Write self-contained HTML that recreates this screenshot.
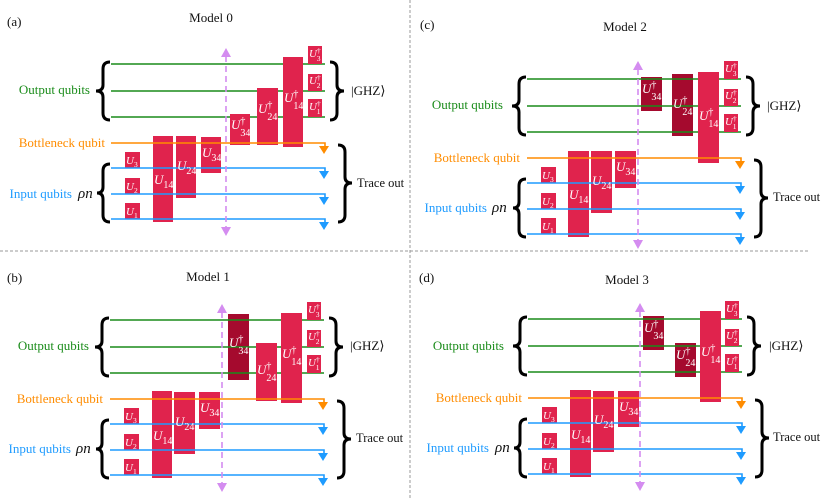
<!DOCTYPE html>
<html><head><meta charset="utf-8"><style>
html,body{margin:0;padding:0;background:#fff}
svg{display:block}
text{font-family:"Liberation Serif",serif}
.g{font-style:italic;fill:#fff;font-size:11px}
.s{font-size:7.5px;font-style:normal}
.b{font-size:13px}
.b .s{font-size:10px}
</style></head><body>
<svg width="830" height="498" viewBox="0 0 830 498" xmlns="http://www.w3.org/2000/svg">
<defs>
<g id="gl" stroke="#1a8c1a" stroke-width="1.6">
<path d="M111,64H325M111,91H325M111,117H325"/>
</g>
<g id="ob">
<path d="M111,143H325V147" stroke="#ff8c00" stroke-width="1.6" fill="none"/>
<polygon points="319,146 329,146 324,154" fill="#ff8c00"/>
<path d="M111,168H325V172M111,194H325V198M111,219H325V223" stroke="#1e9bff" stroke-width="1.6" fill="none"/>
<polygon points="319,171 329,171 324,179" fill="#1e9bff"/>
<polygon points="319,197 329,197 324,205" fill="#1e9bff"/>
<polygon points="319,222 329,222 324,230" fill="#1e9bff"/>
<g stroke="#000" stroke-width="3" fill="none">
<path d="M110,62 Q103,62 103,69 L103,85 Q103,91 96,91 Q103,91 103,97 L103,113 Q103,120 110,120"/>
<path d="M330,62 Q337,62 337,69 L337,85 Q337,91 344,91 Q337,91 337,97 L337,113 Q337,120 330,120"/>
<path d="M110,164 Q103,164 103,171 L103,187 Q103,193 97,193 Q103,193 103,199 L103,215 Q103,222 110,222"/>
<path d="M338,145 Q345,145 345,152 L345,177 Q345,183 352,183 Q345,183 345,189 L345,215 Q345,222 338,222"/>
</g>
</g>
<g id="sm">
<rect x="125" y="152" width="15" height="16" fill="#e0234d"/>
<rect x="125" y="178" width="15" height="16" fill="#e0234d"/>
<rect x="125" y="203" width="15" height="16" fill="#e0234d"/>
</g>
<g id="sd">
<rect x="308" y="46" width="14" height="18" fill="#e0234d"/>
<rect x="308" y="74" width="14" height="17" fill="#e0234d"/>
<rect x="308" y="99" width="14" height="18" fill="#e0234d"/>
</g>
</defs>

<path d="M410,0V498" stroke="#999" stroke-width="1" stroke-dasharray="3,2"/>
<path d="M0,251H808" stroke="#999" stroke-width="1" stroke-dasharray="3,2"/>

<g font-size="13" fill="#111">
<text x="7" y="26">(a)</text>
<text x="211" y="22" text-anchor="middle">Model 0</text>
<text x="420" y="29">(c)</text>
<text x="625" y="31" text-anchor="middle">Model 2</text>
<text x="7" y="282">(b)</text>
<text x="208" y="281" text-anchor="middle">Model 1</text>
<text x="419" y="282">(d)</text>
<text x="627" y="284" text-anchor="middle">Model 3</text>
</g>

<!-- ===== Panel A ===== -->
<g transform="translate(0,0)">
<use href="#gl"/>
<use href="#sm"/>
<rect x="153" y="136" width="20" height="86" fill="#e0234d"/>
<rect x="176" y="136" width="20" height="62" fill="#e0234d"/>
<rect x="201" y="137" width="20" height="36" fill="#e0234d"/>
<rect x="230" y="114" width="20" height="31" fill="#e0234d"/>
<rect x="257" y="88" width="21" height="57" fill="#e0234d"/>
<rect x="283" y="57" width="20" height="90" fill="#e0234d"/>
<use href="#sd"/>
<use href="#ob"/>
<path d="M226,56V228" stroke="#d48cf0" stroke-width="1.6" stroke-dasharray="6,4"/>
<polygon points="221,57 231,57 226,48" fill="#d48cf0"/><polygon points="221,227 231,227 226,236" fill="#d48cf0"/>
<g class="g">
<text x="126" y="164">U<tspan class="s" dy="3">3</tspan></text>
<text x="126" y="190">U<tspan class="s" dy="3">2</tspan></text>
<text x="126" y="215">U<tspan class="s" dy="3">1</tspan></text>
<text class="b" x="154" y="184">U<tspan class="s" dy="4">14</tspan></text>
<text class="b" x="177" y="170">U<tspan class="s" dy="4">24</tspan></text>
<text class="b" x="202" y="157">U<tspan class="s" dy="4">34</tspan></text>
<text class="b" x="231" y="129">U<tspan class="s" dy="-5">†</tspan><tspan class="s" dx="-5" dy="12">34</tspan></text>
<text class="b" x="258" y="113">U<tspan class="s" dy="-5">†</tspan><tspan class="s" dx="-5" dy="12">24</tspan></text>
<text class="b" x="284" y="102">U<tspan class="s" dy="-5">†</tspan><tspan class="s" dx="-5" dy="12">14</tspan></text>
<text x="309" y="57">U<tspan class="s" dy="-4">†</tspan><tspan class="s" dx="-4" dy="8">3</tspan></text>
<text x="309" y="84">U<tspan class="s" dy="-4">†</tspan><tspan class="s" dx="-4" dy="8">2</tspan></text>
<text x="309" y="110">U<tspan class="s" dy="-4">†</tspan><tspan class="s" dx="-4" dy="8">1</tspan></text>
</g>
<g font-size="13">
<text x="90" y="94" text-anchor="end" fill="#1a8c1a">Output qubits</text>
<text x="105" y="147" text-anchor="end" fill="#ff8c00">Bottleneck qubit</text>
<text x="72" y="198" text-anchor="end" fill="#1e9bff">Input qubits</text>
<text x="78" y="198" font-style="italic" font-size="15" fill="#111">ρn</text>
<text x="351" y="95" fill="#111">|GHZ⟩</text>
<text x="357" y="187" font-size="12.5" fill="#111">Trace out</text>
</g>
</g>

<!-- ===== Panel C ===== -->
<g transform="translate(416,15)">
<rect x="225" y="62" width="21" height="34" fill="#a50a2e"/>
<rect x="256" y="59" width="21" height="62" fill="#a50a2e"/>
<use href="#gl"/>
<use href="#sm"/>
<rect x="152" y="136" width="21" height="86" fill="#e0234d"/>
<rect x="175" y="136" width="21" height="62" fill="#e0234d"/>
<rect x="199" y="136" width="21" height="37" fill="#e0234d"/>
<rect x="282" y="57" width="21" height="91" fill="#e0234d"/>
<use href="#sd"/>
<use href="#ob"/>
<path d="M222,54V226" stroke="#d48cf0" stroke-width="1.6" stroke-dasharray="6,4"/>
<polygon points="217,55 227,55 222,46" fill="#d48cf0"/><polygon points="217,225 227,225 222,234" fill="#d48cf0"/>
<g class="g">
<text x="126" y="164">U<tspan class="s" dy="3">3</tspan></text>
<text x="126" y="190">U<tspan class="s" dy="3">2</tspan></text>
<text x="126" y="215">U<tspan class="s" dy="3">1</tspan></text>
<text class="b" x="153" y="184">U<tspan class="s" dy="4">14</tspan></text>
<text class="b" x="176" y="170">U<tspan class="s" dy="4">24</tspan></text>
<text class="b" x="200" y="156">U<tspan class="s" dy="4">34</tspan></text>
<text class="b" x="226" y="78">U<tspan class="s" dy="-5">†</tspan><tspan class="s" dx="-5" dy="12">34</tspan></text>
<text class="b" x="257" y="93">U<tspan class="s" dy="-5">†</tspan><tspan class="s" dx="-5" dy="12">24</tspan></text>
<text class="b" x="283" y="105">U<tspan class="s" dy="-5">†</tspan><tspan class="s" dx="-5" dy="12">14</tspan></text>
<text x="309" y="57">U<tspan class="s" dy="-4">†</tspan><tspan class="s" dx="-4" dy="8">3</tspan></text>
<text x="309" y="84">U<tspan class="s" dy="-4">†</tspan><tspan class="s" dx="-4" dy="8">2</tspan></text>
<text x="309" y="110">U<tspan class="s" dy="-4">†</tspan><tspan class="s" dx="-4" dy="8">1</tspan></text>
</g>
<g font-size="13">
<text x="87" y="94" text-anchor="end" fill="#1a8c1a">Output qubits</text>
<text x="104" y="147" text-anchor="end" fill="#ff8c00">Bottleneck qubit</text>
<text x="71" y="197" text-anchor="end" fill="#1e9bff">Input qubits</text>
<text x="76" y="197" font-style="italic" font-size="15" fill="#111">ρn</text>
<text x="351" y="95" fill="#111">|GHZ⟩</text>
<text x="357" y="186" font-size="12.5" fill="#111">Trace out</text>
</g>
</g>

<!-- ===== Panel B ===== -->
<g transform="translate(-1,256)">
<rect x="229" y="58" width="21" height="66" fill="#a50a2e"/>
<use href="#gl"/>
<use href="#sm"/>
<rect x="153" y="135" width="20" height="87" fill="#e0234d"/>
<rect x="175" y="136" width="21" height="62" fill="#e0234d"/>
<rect x="200" y="136" width="21" height="37" fill="#e0234d"/>
<rect x="257" y="87" width="21" height="58" fill="#e0234d"/>
<rect x="282" y="57" width="21" height="90" fill="#e0234d"/>
<use href="#sd"/>
<use href="#ob"/>
<path d="M223,56V228" stroke="#d48cf0" stroke-width="1.6" stroke-dasharray="6,4"/>
<polygon points="218,57 228,57 223,48" fill="#d48cf0"/><polygon points="218,227 228,227 223,236" fill="#d48cf0"/>
<g class="g">
<text x="126" y="164">U<tspan class="s" dy="3">3</tspan></text>
<text x="126" y="190">U<tspan class="s" dy="3">2</tspan></text>
<text x="126" y="215">U<tspan class="s" dy="3">1</tspan></text>
<text class="b" x="154" y="184">U<tspan class="s" dy="4">14</tspan></text>
<text class="b" x="176" y="170">U<tspan class="s" dy="4">24</tspan></text>
<text class="b" x="201" y="156">U<tspan class="s" dy="4">34</tspan></text>
<text class="b" x="230" y="91">U<tspan class="s" dy="-5">†</tspan><tspan class="s" dx="-5" dy="12">34</tspan></text>
<text class="b" x="258" y="118">U<tspan class="s" dy="-5">†</tspan><tspan class="s" dx="-5" dy="12">24</tspan></text>
<text class="b" x="283" y="102">U<tspan class="s" dy="-5">†</tspan><tspan class="s" dx="-5" dy="12">14</tspan></text>
<text x="309" y="57">U<tspan class="s" dy="-4">†</tspan><tspan class="s" dx="-4" dy="8">3</tspan></text>
<text x="309" y="84">U<tspan class="s" dy="-4">†</tspan><tspan class="s" dx="-4" dy="8">2</tspan></text>
<text x="309" y="110">U<tspan class="s" dy="-4">†</tspan><tspan class="s" dx="-4" dy="8">1</tspan></text>
</g>
<g font-size="13">
<text x="90" y="94" text-anchor="end" fill="#1a8c1a">Output qubits</text>
<text x="104" y="147" text-anchor="end" fill="#ff8c00">Bottleneck qubit</text>
<text x="72" y="197" text-anchor="end" fill="#1e9bff">Input qubits</text>
<text x="77" y="197" font-style="italic" font-size="15" fill="#111">ρn</text>
<text x="351" y="94" fill="#111">|GHZ⟩</text>
<text x="357" y="186" font-size="12.5" fill="#111">Trace out</text>
</g>
</g>

<!-- ===== Panel D ===== -->
<g transform="translate(417,255)">
<rect x="226" y="61" width="21" height="34" fill="#a50a2e"/>
<rect x="258" y="88" width="21" height="34" fill="#a50a2e"/>
<use href="#gl"/>
<use href="#sm"/>
<rect x="153" y="135" width="21" height="87" fill="#e0234d"/>
<rect x="176" y="136" width="21" height="61" fill="#e0234d"/>
<rect x="201" y="136" width="21" height="36" fill="#e0234d"/>
<rect x="283" y="56" width="21" height="91" fill="#e0234d"/>
<use href="#sd"/>
<use href="#ob"/>
<path d="M223,56V228" stroke="#d48cf0" stroke-width="1.6" stroke-dasharray="6,4"/>
<polygon points="218,57 228,57 223,48" fill="#d48cf0"/><polygon points="218,227 228,227 223,236" fill="#d48cf0"/>
<g class="g">
<text x="126" y="164">U<tspan class="s" dy="3">3</tspan></text>
<text x="126" y="190">U<tspan class="s" dy="3">2</tspan></text>
<text x="126" y="215">U<tspan class="s" dy="3">1</tspan></text>
<text class="b" x="154" y="184">U<tspan class="s" dy="4">14</tspan></text>
<text class="b" x="177" y="169">U<tspan class="s" dy="4">24</tspan></text>
<text class="b" x="202" y="156">U<tspan class="s" dy="4">34</tspan></text>
<text class="b" x="227" y="77">U<tspan class="s" dy="-5">†</tspan><tspan class="s" dx="-5" dy="12">34</tspan></text>
<text class="b" x="259" y="104">U<tspan class="s" dy="-5">†</tspan><tspan class="s" dx="-5" dy="12">24</tspan></text>
<text class="b" x="284" y="101">U<tspan class="s" dy="-5">†</tspan><tspan class="s" dx="-5" dy="12">14</tspan></text>
<text x="309" y="57">U<tspan class="s" dy="-4">†</tspan><tspan class="s" dx="-4" dy="8">3</tspan></text>
<text x="309" y="84">U<tspan class="s" dy="-4">†</tspan><tspan class="s" dx="-4" dy="8">2</tspan></text>
<text x="309" y="110">U<tspan class="s" dy="-4">†</tspan><tspan class="s" dx="-4" dy="8">1</tspan></text>
</g>
<g font-size="13">
<text x="87" y="95" text-anchor="end" fill="#1a8c1a">Output qubits</text>
<text x="105" y="147" text-anchor="end" fill="#ff8c00">Bottleneck qubit</text>
<text x="72" y="197" text-anchor="end" fill="#1e9bff">Input qubits</text>
<text x="78" y="197" font-style="italic" font-size="15" fill="#111">ρn</text>
<text x="352" y="95" fill="#111">|GHZ⟩</text>
<text x="356" y="186" font-size="12.5" fill="#111">Trace out</text>
</g>
</g>
</svg>
</body></html>
